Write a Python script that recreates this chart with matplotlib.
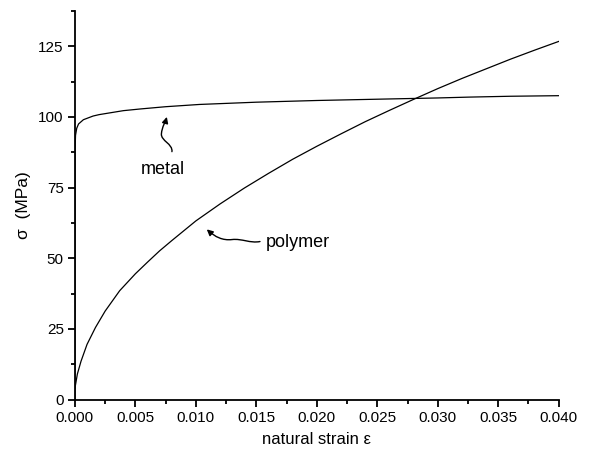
import matplotlib.pyplot as plt
from matplotlib.path import Path
from matplotlib.patches import FancyArrowPatch
from matplotlib.ticker import MultipleLocator

plt.rcParams['font.family'] = ['Liberation Sans', 'DejaVu Sans']

strain_metal = [0.0, 0.00001, 0.00005, 0.00015, 0.0003, 0.0007, 0.0015, 0.002,
                0.004, 0.0054, 0.0075, 0.0103, 0.015, 0.020, 0.0255, 0.030,
                0.0326, 0.036, 0.040]
stress_metal = [0.0, 88.0, 93.5, 96.0, 97.5, 99.0, 100.3, 100.8,
                102.2, 102.8, 103.6, 104.4, 105.2, 105.8, 106.3, 106.7,
                107.0, 107.3, 107.5]

strain_poly = [0.0, 0.0002, 0.0005, 0.001, 0.0017, 0.0025, 0.0037, 0.005,
               0.006, 0.007, 0.008, 0.010, 0.012, 0.014, 0.016, 0.018,
               0.020, 0.022, 0.024, 0.026, 0.028, 0.030, 0.032, 0.034,
               0.036, 0.038, 0.040]
stress_poly = [4.0, 9.0, 13.5, 19.5, 25.5, 31.3, 38.5, 44.5,
               48.6, 52.6, 56.2, 63.2, 69.2, 74.8, 80.0, 85.0,
               89.6, 94.0, 98.3, 102.3, 106.2, 110.0, 113.6, 117.0,
               120.4, 123.6, 126.7]

fig = plt.figure(figsize=(5.9, 4.54), dpi=100)
ax = fig.add_axes([0.127, 0.12, 0.82, 0.856])

ax.plot(strain_metal, stress_metal, color='black', lw=0.9)
ax.plot(strain_poly, stress_poly, color='black', lw=0.9)

ax.set_xlim(0, 0.040)
ax.set_ylim(0, 137.5)
ax.xaxis.set_major_locator(MultipleLocator(0.005))
ax.xaxis.set_minor_locator(MultipleLocator(0.0025))
ax.yaxis.set_major_locator(MultipleLocator(25))
ax.yaxis.set_minor_locator(MultipleLocator(12.5))
ax.xaxis.set_major_formatter(plt.FormatStrFormatter('%.3f'))

for s in ['top', 'right']:
    ax.spines[s].set_visible(False)
for s in ['left', 'bottom']:
    ax.spines[s].set_linewidth(1.3)
ax.tick_params(which='major', direction='out', length=5, width=1.3, labelsize=11, pad=3)
ax.tick_params(which='minor', direction='out', length=3, width=1.3)

ax.set_xlabel('natural strain ε', fontsize=12, labelpad=5)
ax.set_ylabel('σ  (MPa)', fontsize=12.5, labelpad=5)

# labels with wavy arrows
ax.text(0.00727, 81.5, 'metal', fontsize=13, ha='center', va='center')
ax.text(0.01843, 55.5, 'polymer', fontsize=13, ha='center', va='center')

metal_arrow = Path([(0.00802, 87.7), (0.0081, 90.5), (0.0071, 91.5), (0.00715, 94.0),
                    (0.0072, 96.5), (0.0075, 98.5), (0.0076, 100.0)],
                   [Path.MOVETO] + [Path.CURVE4] * 6)
poly_arrow = Path([(0.0153, 55.9), (0.0145, 55.2), (0.0138, 57.0), (0.0130, 56.6),
                   (0.0122, 56.2), (0.0116, 57.5), (0.0109, 60.2)],
                  [Path.MOVETO] + [Path.CURVE4] * 6)
for p in [metal_arrow, poly_arrow]:
    ax.add_patch(FancyArrowPatch(path=p, arrowstyle='-|>', mutation_scale=9,
                                 color='black', lw=1.0, transform=ax.transData))

fig.savefig('out.png', dpi=100)
